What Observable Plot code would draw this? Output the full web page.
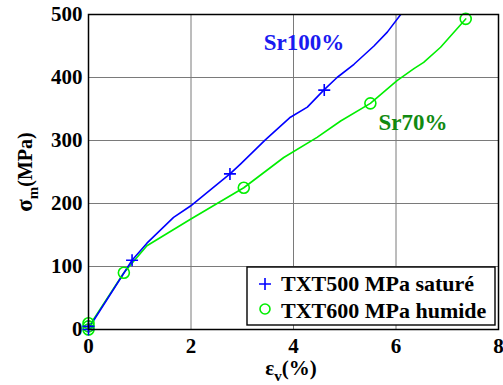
<!DOCTYPE html>
<html>
<head>
<meta charset="utf-8">
<script src="https://cdn.jsdelivr.net/npm/d3@7"></script>
<script src="https://cdn.jsdelivr.net/npm/@observablehq/plot@0.6"></script>
<style>
  html, body { margin: 0; padding: 0; background: white; }
</style>
</head>
<body>
<div id="chart"></div>
<script>
// ---- data ----
const xTicks = [0, 2, 4, 6, 8];
const yTicks = [0, 100, 200, 300, 400, 500];

// Sr100% (TXT500 MPa saturé) curve
const satX = [0, 0.05, 0.85, 1.14, 1.66, 1.99, 2.76, 2.97, 3.45, 3.94, 4.27, 4.59, 4.85, 5.18, 5.57, 5.83, 6.12];
const satY = [0, 8, 110, 137, 178, 196, 247, 263, 301, 337, 353, 380, 400, 421, 450, 472, 503];
const satMarkX = [0, 0, 0.85, 2.76, 4.6];
const satMarkY = [0, 5, 110, 247, 380];

// Sr70% (TXT600 MPa humide) curve
const humX = [0, 0.05, 0.69, 1.14, 1.99, 3.03, 3.81, 4.46, 4.92, 5.5, 6.02, 6.35, 6.54, 6.87, 7.36];
const humY = [0, 10, 90, 133, 175, 225, 273, 305, 331, 359, 395, 414, 424, 448, 493];
const humMarkX = [0, 0, 0, 0.69, 3.03, 5.5, 7.36];
const humMarkY = [0, 5, 10, 90, 225, 359, 493];

// small red mark at the origin
const redX = [0, 0];
const redY = [1, 9];

// annotations
const noteText = ["Sr100%", "Sr70%"];
const noteX = [3.42, 5.66];
const noteY = [444, 316];
const noteColor = ["#1a1af0", "#118a11"];

const legendLabels = ["TXT500 MPa saturé", "TXT600 MPa humide"];
const blue = "#0000ff";
const green = "#00ee00";
const FONT = "Liberation Serif";

const zip = (xs, ys) => xs.map((x, i) => ({x, y: ys[i]}));
const sat = zip(satX, satY), satM = zip(satMarkX, satMarkY);
const hum = zip(humX, humY), humM = zip(humMarkX, humMarkY);
const red = zip(redX, redY);
const notes = noteText.map((t, i) => ({t, x: noteX[i], y: noteY[i], c: noteColor[i]}));

const plusSymbol = {
  draw(ctx, size) {
    const r = Math.sqrt(size / Math.PI);
    ctx.moveTo(-r, 0); ctx.lineTo(r, 0);
    ctx.moveTo(0, -r); ctx.lineTo(0, r);
  }
};

const chart = Plot.plot({
  width: 503,
  height: 385,
  marginLeft: 88,
  marginRight: 5,
  marginTop: 14,
  marginBottom: 56,
  x: {domain: [0, 8]},
  y: {domain: [0, 500]},
  style: {fontFamily: FONT, fontWeight: "bold", fontSize: "21px", color: "black", background: "white"},
  marks: [
    Plot.gridX(xTicks, {stroke: "#7a7a7a", strokeOpacity: 1, strokeWidth: 1}),
    Plot.gridY(yTicks, {stroke: "#7a7a7a", strokeOpacity: 1, strokeWidth: 1}),
    Plot.axisX(xTicks, {tickSize: 0, tickPadding: 9, fontSize: 21, fontFamily: FONT, fontWeight: "bold", label: null}),
    Plot.axisY(yTicks, {tickSize: 0, tickPadding: 6, fontSize: 21, fontFamily: FONT, fontWeight: "bold", label: null}),
    Plot.line(hum, {x: "x", y: "y", stroke: green, strokeWidth: 1.6, clip: true}),
    Plot.line(sat, {x: "x", y: "y", stroke: blue, strokeWidth: 1.6, clip: true}),
    Plot.line(red, {x: "x", y: "y", stroke: "#ff0000", strokeWidth: 1.5}),
    Plot.dot(humM, {x: "x", y: "y", r: 5.5, stroke: green, strokeWidth: 1.6, fill: "none"}),
    Plot.dot(satM, {x: "x", y: "y", r: 6, symbol: plusSymbol, stroke: blue, strokeWidth: 1.6, fill: "none"}),
    Plot.text(notes, {x: "x", y: "y", text: "t", fill: "c", fontSize: 23, fontFamily: FONT, fontWeight: "bold", textAnchor: "start", lineAnchor: "bottom"}),
    Plot.frame({stroke: "black", strokeWidth: 1.5})
  ]
});

document.getElementById("chart").appendChild(chart);

// axis titles with subscripts, and the in-plot legend
const svg = d3.select(chart);
const yl = svg.append("text")
  .attr("transform", "translate(32,172) rotate(-90)")
  .attr("text-anchor", "middle")
  .attr("font-size", 20)
  .attr("fill", "black");
yl.append("tspan").attr("font-size", 23).text("σ");
yl.append("tspan").attr("font-size", 15).attr("dy", 6).text("m");
yl.append("tspan").attr("dy", -6).text("(MPa)");

const xl = svg.append("text")
  .attr("x", 291).attr("y", 375)
  .attr("text-anchor", "middle")
  .attr("font-size", 21)
  .attr("fill", "black");
xl.append("tspan").text("ε");
xl.append("tspan").attr("font-size", 15).attr("dy", 6).text("v");
xl.append("tspan").attr("dy", -6).text("(%)");

const lg = svg.append("g");
lg.append("rect").attr("x", 247).attr("y", 267).attr("width", 248).attr("height", 58)
  .attr("fill", "white").attr("stroke", "black").attr("stroke-width", 1.4);
lg.append("path").attr("d", "M259,284h12M265,278v12").attr("stroke", blue).attr("stroke-width", 1.6);
lg.append("circle").attr("cx", 265).attr("cy", 309).attr("r", 5).attr("fill", "none").attr("stroke", green).attr("stroke-width", 1.6);
legendLabels.forEach((t, i) => {
  lg.append("text").attr("x", 281).attr("y", 291 + i * 27).attr("text-anchor", "start")
    .attr("font-size", 22).attr("fill", "black").text(t);
});

svg.selectAll("text")
  .attr("font-family", FONT)
  .style("font-family", FONT)
  .attr("font-weight", "bold");
</script>
</body>
</html>
